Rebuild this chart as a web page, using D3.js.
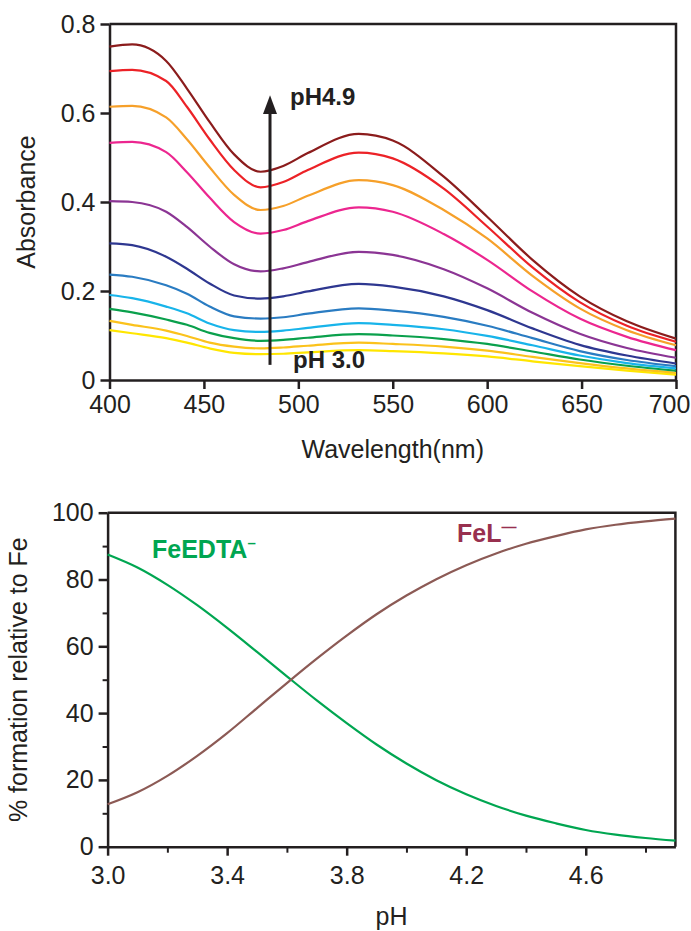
<!DOCTYPE html>
<html>
<head>
<meta charset="utf-8">
<script src="https://cdn.jsdelivr.net/npm/d3@7"></script>
<style>
  body { margin: 0; background: #fff; }
  svg { display: block; font-family: "Liberation Sans", Arial, sans-serif; }
  .axis path, .axis line { stroke: #231f20; }
  .axis text { fill: #231f20; font-size: 25px; }
</style>
</head>
<body>
<svg id="chart" width="691" height="931"></svg>
<script>
// Absorbance spectra, pH 3.0 (bottom) to pH 4.9 (top)
const wavelengths = [400, 412, 430, 441, 453, 466, 480, 492, 505, 532, 550, 577, 600, 624, 649, 674, 700];
const spectrumColors = ["#ffe600", "#fbc21c", "#0aa04c", "#18b4ea", "#2a7cc2", "#2e3790", "#8b3594", "#ec268f", "#f6a02a", "#ec2227", "#8b1c1c"];
const spectra = [
  [0.112, 0.105, 0.094, 0.084, 0.071, 0.061, 0.058, 0.059, 0.062, 0.067, 0.065, 0.060, 0.053, 0.042, 0.031, 0.021, 0.012],
  [0.133, 0.124, 0.111, 0.099, 0.084, 0.075, 0.071, 0.073, 0.077, 0.084, 0.081, 0.075, 0.066, 0.052, 0.038, 0.026, 0.016],
  [0.160, 0.152, 0.136, 0.124, 0.106, 0.094, 0.088, 0.090, 0.095, 0.103, 0.100, 0.092, 0.081, 0.064, 0.046, 0.032, 0.021],
  [0.191, 0.184, 0.165, 0.150, 0.127, 0.112, 0.108, 0.111, 0.117, 0.128, 0.124, 0.114, 0.099, 0.078, 0.055, 0.038, 0.026],
  [0.237, 0.232, 0.213, 0.194, 0.165, 0.143, 0.138, 0.141, 0.149, 0.161, 0.156, 0.142, 0.122, 0.094, 0.065, 0.045, 0.031],
  [0.307, 0.303, 0.277, 0.250, 0.217, 0.190, 0.183, 0.188, 0.199, 0.216, 0.210, 0.188, 0.157, 0.116, 0.079, 0.055, 0.037],
  [0.402, 0.400, 0.378, 0.344, 0.300, 0.260, 0.244, 0.251, 0.265, 0.288, 0.281, 0.249, 0.206, 0.151, 0.104, 0.072, 0.050],
  [0.533, 0.535, 0.512, 0.467, 0.410, 0.355, 0.329, 0.337, 0.357, 0.388, 0.378, 0.328, 0.270, 0.199, 0.138, 0.097, 0.067],
  [0.614, 0.616, 0.590, 0.541, 0.478, 0.416, 0.382, 0.391, 0.414, 0.449, 0.438, 0.382, 0.318, 0.234, 0.161, 0.112, 0.078],
  [0.694, 0.697, 0.672, 0.614, 0.541, 0.472, 0.433, 0.445, 0.472, 0.511, 0.498, 0.430, 0.345, 0.253, 0.175, 0.122, 0.086],
  [0.749, 0.754, 0.717, 0.655, 0.580, 0.507, 0.468, 0.481, 0.510, 0.553, 0.538, 0.457, 0.367, 0.270, 0.188, 0.132, 0.093]
];
const wlTicks = [400, 450, 500, 550, 600, 650, 700];
const absTicks = [0, 0.2, 0.4, 0.6, 0.8];

// Species distribution vs pH
const phValues = [3.0, 3.1, 3.2, 3.3, 3.4, 3.5, 3.6, 3.7, 3.8, 3.9, 4.0, 4.1, 4.2, 4.3, 4.4, 4.5, 4.6, 4.7, 4.8, 4.9];
const feEdta = [87.5, 83.6, 78.4, 72.3, 65.5, 58.3, 51.0, 43.8, 37.0, 30.6, 24.9, 19.9, 15.7, 12.2, 9.3, 7.0, 5.0, 3.6, 2.6, 1.8];
const feL = [12.7, 16.3, 21.2, 27.2, 34.0, 41.5, 49.0, 56.3, 63.2, 69.6, 75.2, 80.1, 84.3, 87.8, 90.7, 93.0, 95.0, 96.4, 97.4, 98.2];
const phTicks = [3.0, 3.4, 3.8, 4.2, 4.6];
const phMinor = [3.2, 3.6, 4.0, 4.4, 4.8];
const pctTicks = [0, 20, 40, 60, 80, 100];
const pctMinor = [10, 30, 50, 70, 90];

const svg = d3.select("#chart");
const ink = "#231f20";

// ---------- top chart ----------
const x1 = d3.scaleLinear().domain([400, 700]).range([109.5, 676]);
const y1 = d3.scaleLinear().domain([0, 0.8]).range([380, 24]);

const specG = svg.append("g");

specG.append("g").attr("class", "axis")
  .attr("transform", "translate(0,380)")
  .call(d3.axisBottom(x1).tickValues(wlTicks).tickSize(9).tickPadding(6).tickSizeOuter(0))
  .call(g => g.selectAll("path, line").attr("stroke-width", 2.5))
  .call(g => g.selectAll(".tick text").filter(d => d === 700).attr("dx", -7));

specG.append("g").attr("class", "axis")
  .attr("transform", "translate(109.5,0)")
  .call(d3.axisLeft(y1).tickValues(absTicks).tickFormat(d => d === 0 ? "0" : d3.format(".1f")(d))
    .tickSize(9).tickPadding(5).tickSizeOuter(0))
  .call(g => g.selectAll("path, line").attr("stroke-width", 2.5));

// box top + right
specG.append("path")
  .attr("d", `M${x1(400)},${y1(0.8)}H${x1(700)}V${y1(0)}`)
  .attr("fill", "none").attr("stroke", ink).attr("stroke-width", 2.5);

const line1 = d3.line()
  .x((d, i) => x1(wavelengths[i]))
  .y(d => y1(d))
  .curve(d3.curveMonotoneX);

specG.append("g").selectAll("path")
  .data(spectra)
  .enter()
  .append("path")
  .attr("d", line1)
  .attr("fill", "none")
  .attr("stroke", (d, i) => spectrumColors[i])
  .attr("stroke-width", 2.2);

// arrow
const ax = x1(485);
specG.append("line")
  .attr("x1", ax).attr("x2", ax)
  .attr("y1", y1(0.034)).attr("y2", y1(0.6))
  .attr("stroke", ink).attr("stroke-width", 3);
specG.append("path")
  .attr("d", `M${ax},${y1(0.64)}L${ax - 7},${y1(0.6) + 1}L${ax + 7},${y1(0.6) + 1}Z`)
  .attr("fill", ink);

specG.append("text")
  .attr("x", 290).attr("y", 105)
  .attr("font-size", 24).attr("font-weight", "bold").attr("fill", ink)
  .text("pH4.9");
specG.append("text")
  .attr("x", 293).attr("y", 368)
  .attr("font-size", 24).attr("font-weight", "bold").attr("fill", ink)
  .text("pH 3.0");

specG.append("text")
  .attr("x", (x1(400) + x1(700)) / 2).attr("y", 458)
  .attr("text-anchor", "middle").attr("font-size", 25).attr("fill", ink)
  .text("Wavelength(nm)");
specG.append("text")
  .attr("transform", `translate(35,${(y1(0) + y1(0.8)) / 2}) rotate(-90)`)
  .attr("text-anchor", "middle").attr("font-size", 25).attr("fill", ink)
  .text("Absorbance");

// ---------- bottom chart ----------
const x2 = d3.scaleLinear().domain([3.0, 4.9]).range([107.6, 675.4]);
const y2 = d3.scaleLinear().domain([0, 100]).range([846.7, 512.7]);

const specB = svg.append("g");

specB.append("g").attr("class", "axis")
  .attr("transform", "translate(0,846.7)")
  .call(d3.axisBottom(x2).tickValues(phMinor).tickSize(6).tickFormat(""))
  .call(g => g.select(".domain").remove())
  .call(g => g.selectAll("line").attr("stroke-width", 2));

specB.append("g").attr("class", "axis")
  .attr("transform", "translate(0,846.7)")
  .call(d3.axisBottom(x2).tickValues(phTicks).tickFormat(d3.format(".1f"))
    .tickSize(9).tickPadding(11).tickSizeOuter(0))
  .call(g => g.selectAll("path, line").attr("stroke-width", 2.5));

specB.append("g").attr("class", "axis")
  .attr("transform", "translate(107.6,0)")
  .call(d3.axisLeft(y2).tickValues(pctMinor).tickSize(5).tickFormat(""))
  .call(g => g.select(".domain").remove())
  .call(g => g.selectAll("line").attr("stroke-width", 2));

specB.append("g").attr("class", "axis")
  .attr("transform", "translate(107.6,0)")
  .call(d3.axisLeft(y2).tickValues(pctTicks).tickSize(9).tickPadding(5).tickSizeOuter(0))
  .call(g => g.selectAll("path, line").attr("stroke-width", 2.5));

specB.append("path")
  .attr("d", `M${x2(3.0)},${y2(100)}H${x2(4.9)}V${y2(0)}`)
  .attr("fill", "none").attr("stroke", ink).attr("stroke-width", 2.5);

const line2 = d3.line()
  .x((d, i) => x2(phValues[i]))
  .y(d => y2(d))
  .curve(d3.curveMonotoneX);

specB.append("path").datum(feEdta)
  .attr("d", line2).attr("fill", "none")
  .attr("stroke", "#00a651").attr("stroke-width", 2.2);
specB.append("path").datum(feL)
  .attr("d", line2).attr("fill", "none")
  .attr("stroke", "#8c5a55").attr("stroke-width", 2.2);

const lab1 = specB.append("text")
  .attr("x", 152).attr("y", 558)
  .attr("font-size", 25).attr("font-weight", "bold").attr("fill", "#00a651");
lab1.append("tspan").text("FeEDTA");
lab1.append("tspan").attr("font-size", 15).attr("dy", -10).text("–");

const lab2 = specB.append("text")
  .attr("x", 457).attr("y", 542)
  .attr("font-size", 25).attr("font-weight", "bold").attr("fill", "#98304f");
lab2.append("tspan").text("FeL");
lab2.append("tspan").attr("font-size", 15).attr("dy", -10).text("—");

specB.append("text")
  .attr("x", (x2(3.0) + x2(4.9)) / 2).attr("y", 925)
  .attr("text-anchor", "middle").attr("font-size", 25).attr("fill", ink)
  .text("pH");
specB.append("text")
  .attr("transform", `translate(27,${(y2(0) + y2(100)) / 2}) rotate(-90)`)
  .attr("text-anchor", "middle").attr("font-size", 25).attr("fill", ink)
  .text("% formation relative to Fe");
</script>
</body>
</html>
